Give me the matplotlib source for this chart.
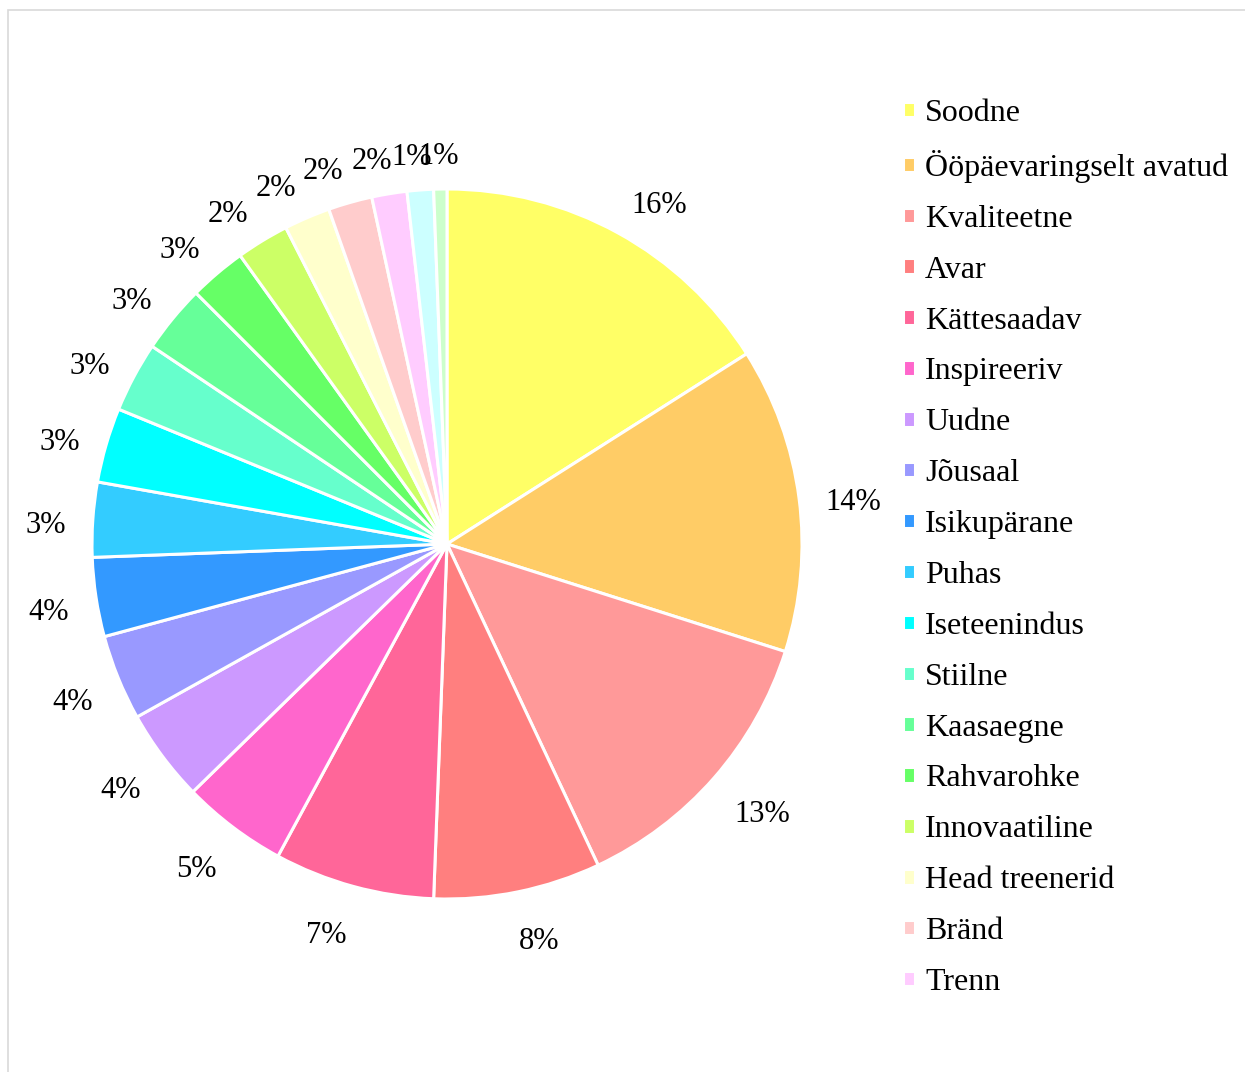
import numpy as np
import matplotlib.pyplot as plt
from matplotlib.patches import Rectangle

# survey answers, share of mentions (%)
labels = ['Soodne', 'Ööpäevaringselt avatud', 'Kvaliteetne', 'Avar', 'Kättesaadav',
          'Inspireeriv', 'Uudne', 'Jõusaal', 'Isikupärane', 'Puhas', 'Iseteenindus',
          'Stiilne', 'Kaasaegne', 'Rahvarohke', 'Innovaatiline', 'Head treenerid',
          'Bränd', 'Trenn', 'Muu 1', 'Muu 2']
values = [16.0, 13.9, 13.1, 7.6, 7.3, 4.8, 4.2, 3.9, 3.6, 3.4, 3.4,
          3.2, 3.1, 2.6, 2.4, 2.1, 2.0, 1.6, 1.2, 0.6]
colors = ['#FFFF66', '#FFCC66', '#FF9999', '#FF7F7F', '#FF6699', '#FF66CC',
          '#CC99FF', '#9999FF', '#3399FF', '#33CCFF', '#00FFFF', '#66FFCC',
          '#66FF99', '#66FF66', '#CCFF66', '#FFFFCC', '#FFCCCC', '#FFCCFF',
          '#CCFFFF', '#CCFFCC']
n_legend = 18  # legend box only has room for the first 18 entries

plt.rcParams['font.family'] = ['Liberation Serif', 'DejaVu Serif']

W, H = 1245, 1072
fig = plt.figure(figsize=(W / 100, H / 100), dpi=100)

# light frame around the chart area
fig.patches.append(Rectangle((8 / W, -0.1), 1.2, 1.1 - 10 / H, transform=fig.transFigure,
                             fill=False, edgecolor='#D9D9D9', linewidth=1.2))

cx, cy, R = 447, 544, 355
ax = fig.add_axes([(cx - R) / W, (H - cy - R) / H, 2 * R / W, 2 * R / H])
wedges, texts, autotexts = ax.pie(values, colors=colors, startangle=90, counterclock=False,
                                  autopct='%1.0f%%', pctdistance=1.14,
                                  wedgeprops=dict(edgecolor='white', linewidth=2.2),
                                  textprops=dict(fontsize=22, color='black'))
ax.set_xlim(-1, 1)
ax.set_ylim(-1, 1)
ax.set_aspect('equal')

# outside-end labels: anchor the label box just beyond the rim on each slice's mid ray
fig.canvas.draw()
renderer = fig.canvas.get_renderer()
gap = 27
for w, t in zip(wedges, autotexts):
    ang = np.deg2rad((w.theta1 + w.theta2) / 2)
    ux, uy = np.cos(ang), np.sin(ang)
    bb = t.get_window_extent(renderer)
    hw, hh = bb.width / 2, bb.height / 2
    px = (R + gap) * ux + hw * np.clip(ux * 4, -1, 1)
    py = (R + gap) * uy + hh * uy - 9
    t.set_position((px / R, py / R))

fig.legend(wedges[:n_legend], labels[:n_legend], loc='upper left',
           bbox_to_anchor=(903 / W, 1 - 99 / H), frameon=False, fontsize=23,
           handlelength=0.37, handleheight=0.37, handletextpad=0.32,
           labelspacing=0.685, borderaxespad=0, borderpad=0)

fig.savefig('out.png', dpi=100)
